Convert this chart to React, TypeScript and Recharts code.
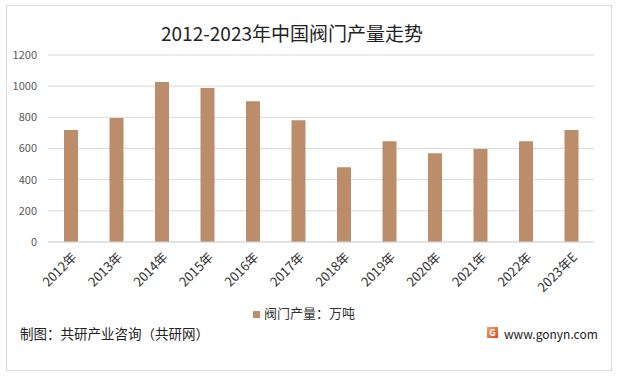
import React from 'react';
import { BarChart, Bar, XAxis, YAxis, CartesianGrid, Legend } from 'recharts';

const years = ['2012年', '2013年', '2014年', '2015年', '2016年', '2017年', '2018年', '2019年', '2020年', '2021年', '2022年', '2023年E'];
const output = [718, 795, 1026, 988, 904, 782, 480, 647, 570, 596, 647, 718];
const yTicks = [0, 200, 400, 600, 800, 1000, 1200];

const FONT = '"Noto Sans CJK SC", "Noto Sans", sans-serif';
const BAR_COLOR = '#BC8D6B';

// rotated category label, top-right end sits under the bar
function YearTick(props: any) {
  const { x, y, payload } = props;
  return (
    <text
      x={x + 7}
      y={y + 8}
      transform={`rotate(-45, ${x + 7}, ${y + 8})`}
      textAnchor="end"
      fontSize={13}
      fill="#333"
      fontFamily={FONT}
    >
      {payload.value}
    </text>
  );
}

export default function App() {
  const chartData = years.map((year, i) => ({ year, value: output[i] }));

  return (
    <div style={{ position: 'absolute', left: 0, top: 0, width: 618, height: 379, background: '#fff', fontFamily: FONT }}>
      <div style={{ position: 'absolute', left: 6, top: 5, width: 604, height: 364, border: '1px solid #d9d9d9' }} />
      <div style={{ position: 'absolute', left: 0, top: 19, width: 584, textAlign: 'center', fontSize: 19, color: '#222' }}>
        2012-2023年中国阀门产量走势
      </div>
      <BarChart width={618} height={379} data={chartData} margin={{ top: 55, right: 24, left: 0, bottom: 48 }}>
        <CartesianGrid vertical={false} stroke="#d9d9d9" />
        <XAxis dataKey="year" axisLine={{ stroke: '#d9d9d9' }} tickLine={false} interval={0} height={70} tick={<YearTick />} />
        <YAxis
          domain={[0, 1200]}
          ticks={yTicks}
          width={48}
          axisLine={false}
          tickLine={false}
          tickMargin={5}
          tick={{ fontSize: 11, fill: '#595959', fontFamily: FONT }}
        />
        <Legend
          verticalAlign="bottom"
          iconType="square"
          iconSize={7}
          wrapperStyle={{ top: 303, left: 0, width: 618, fontSize: 13, color: '#333' }}
          formatter={(v: string) => <span style={{ color: '#333' }}>{v}</span>}
        />
        <Bar dataKey="value" name="阀门产量：万吨" fill={BAR_COLOR} barSize={14} isAnimationActive={false} />
      </BarChart>
      <div style={{ position: 'absolute', left: 20, top: 323, fontSize: 13.5, color: '#222' }}>
        制图：共研产业咨询（共研网）
      </div>
      <div style={{ position: 'absolute', left: 487, top: 327, width: 11, height: 11, background: 'linear-gradient(135deg, #f7a35c, #e8412c)', color: '#fff', fontSize: 9, lineHeight: '11px', textAlign: 'center', fontWeight: 'bold' }}>
        G
      </div>
      <div style={{ position: 'absolute', left: 504, top: 325, fontSize: 12, color: '#222' }}>
        www.gonyn.com
      </div>
    </div>
  );
}
